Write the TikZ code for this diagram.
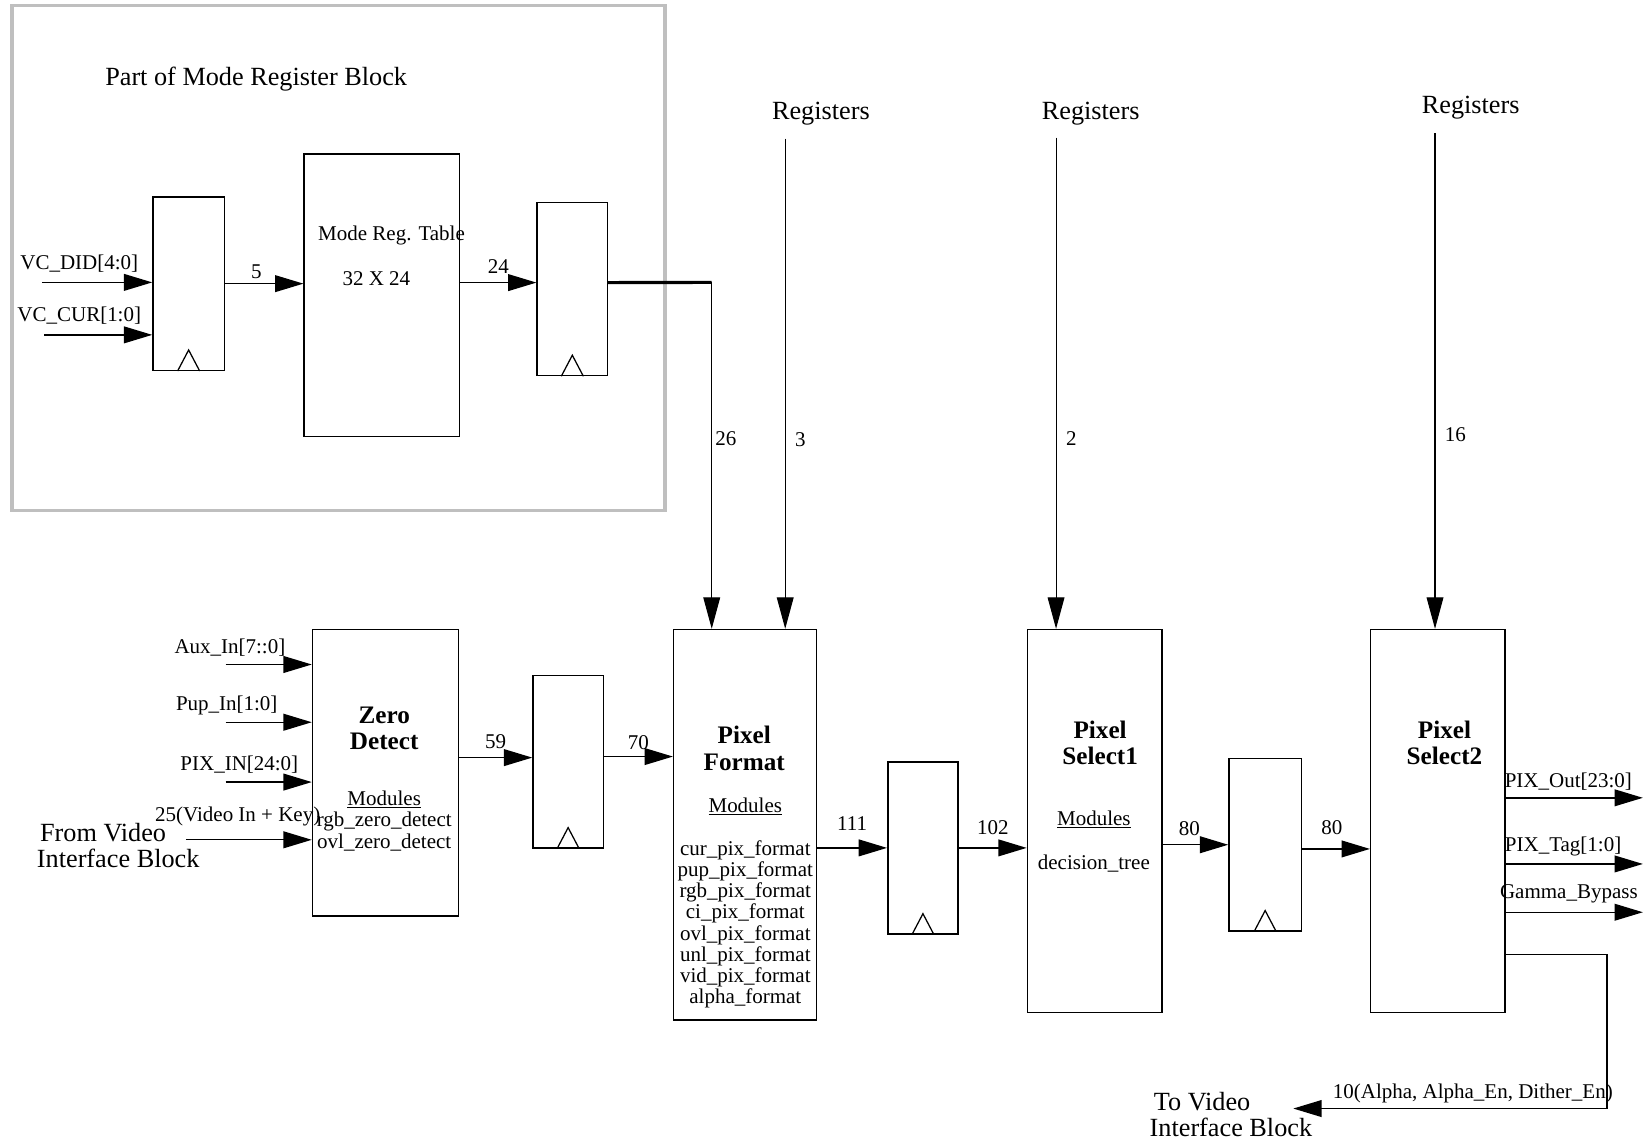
\documentclass[tikz,border=0pt]{standalone}
\usepackage{fontspec}
\setmainfont{Liberation Serif}
\usetikzlibrary{arrows.meta,calc}
\begin{document}
\begin{tikzpicture}[x=1pt,y=-1pt,
  box/.style={draw, line width=1.4pt, anchor=north west, inner sep=0pt},
  arr/.style={line width=1.3pt, -{Triangle[length=27pt,width=16pt]}},
  vthin/.style={line width=1pt, -{Triangle[length=30pt,width=16pt]}},
  num/.style={font=\fontsize{20}{20}\selectfont, inner sep=0pt},
  lbl/.style={font=\fontsize{20}{20}\selectfont, inner sep=0pt, yshift=-2pt},
  big/.style={font=\fontsize{25}{25}\selectfont, inner sep=0pt, yshift=-2pt},
  ttl/.style={font=\fontsize{24}{25}\selectfont\bfseries, align=center, inner sep=0pt},
  mods/.style={font=\fontsize{20}{20.2}\selectfont, align=center, inner sep=0pt, yshift=-2pt},
  clk/.style={line width=1.2pt}]
\useasboundingbox (0,0) rectangle (1568,1087);

% grey frame of the mode register block
\node[draw=black!25, line width=3pt, anchor=north west, minimum width=622pt, minimum height=481pt, inner sep=0pt] (mblk) at (10,4) {};
\node[big] (mbtitle) at (244,73) {Part of Mode Register Block};

% boxes
\node[box, minimum width=68pt,  minimum height=165pt] (r1)  at (145,187) {};
\node[box, minimum width=148pt, minimum height=269pt] (mrt) at (289,146) {};
\node[box, minimum width=67pt,  minimum height=165pt] (r2)  at (511,192) {};
\node[box, minimum width=139pt, minimum height=273pt] (zd)  at (297,599) {};
\node[box, minimum width=67pt,  minimum height=164pt] (r3)  at (507,643) {};
\node[box, minimum width=136pt, minimum height=372pt] (pf)  at (641,599) {};
\node[box, minimum width=67pt,  minimum height=164pt] (r4)  at (845,725) {};
\node[box, minimum width=128pt, minimum height=365pt] (ps1) at (978,599) {};
\node[box, minimum width=69pt,  minimum height=164pt] (r5)  at (1170,722) {};
\node[box, minimum width=128pt, minimum height=365pt] (ps2) at (1305,599) {};

% clock triangles
\foreach \r in {r1,r2,r3,r4,r5}
  \draw[clk] ($(\r.south)+(-10.5,0)$) -- ($(\r.south)+(0,-20)$) -- ($(\r.south)+(10.5,0)$);

% texts inside boxes
\node[lbl] (mrtA) at (373,222) {Mode Reg. Table};
\node[lbl] (mrtB) at (358.5,263) {32 X 24};
\node[ttl] (zdT) at (366,694) {Zero\\Detect};
\node[mods] (zdM) at (366,780) {\underline{Modules}\\rgb\_zero\_detect\\ovl\_zero\_detect};
\node[ttl] (pfT) at (709,713) {Pixel\\Format};
\node[lbl] (pfM) at (710,766) {\underline{Modules}};
\node[mods] (pfL) at (710,878.5) {cur\_pix\_format\\pup\_pix\_format\\rgb\_pix\_format\\ci\_pix\_format\\ovl\_pix\_format\\unl\_pix\_format\\vid\_pix\_format\\alpha\_format};
\node[ttl] (ps1T) at (1048,708) {Pixel\\Select1};
\node[lbl] (ps1M) at (1042,779) {\underline{Modules}};
\node[lbl] (ps1L) at (1042,821) {decision\_tree};
\node[ttl] (ps2T) at (1376,708) {Pixel\\Select2};

% mode block inputs
\coordinate (inDID) at (40,269);
\coordinate (inCUR) at (42,319);
\node[lbl] (tDID) at (75.5,249) {VC\_DID[4:0]};
\node[lbl] (tCUR) at (75.5,299) {VC\_CUR[1:0]};
\draw[arr] (inDID) -- (inDID -| r1.west);
\draw[arr] (inCUR) -- (inCUR -| r1.west);
\draw[arr] (r1.east) -- node[num, above=4pt, pos=0.4] (l5) {5} (r1.east -| mrt.west);
\draw[arr] ([yshift=6pt]r2.west -| mrt.east) -- node[num, above=8pt, pos=0.5] (l24) {24} ([yshift=6pt]r2.west);
\coordinate (j26) at (678,269);
\draw[line width=3pt] ([yshift=6pt]r2.east) -- (j26);
\draw[vthin] (j26) -- node[num, right=3pt, pos=0.45] (l26) {26} (j26 |- pf.north);

% registers
\node[big] (regA) at (782,106) {Registers};
\node[big] (regB) at (1039,106) {Registers};
\node[big] (regC) at (1401,101) {Registers};
\coordinate (sA) at (748,132);
\coordinate (sB) at (1006,131);
\coordinate (sC) at (1367,127);
\draw[vthin] (sA) -- node[num, right=9pt, pos=0.614] (l3) {3} (sA |- pf.north);
\draw[vthin] (sB) -- node[num, right=9pt, pos=0.612] (l2) {2} (sB |- ps1.north);
\draw[vthin] (sC) -- node[num, right=9pt, pos=0.609] (l16) {16} (sC |- ps2.north);

% zero detect inputs
\coordinate (iA) at (215,633);
\coordinate (iB) at (215,688);
\coordinate (iC) at (215,745);
\coordinate (iD) at (177,800);
\node[lbl] (tA) at (219,615) {Aux\_In[7::0]};
\node[lbl] (tB) at (216,670) {Pup\_In[1:0]};
\node[lbl] (tC) at (228,726) {PIX\_IN[24:0]};
\node[lbl] (tD) at (226.5,776) {25(Video In + Key)};
\node[big, align=left, anchor=west] (fromvid) at (35,803.5) {\hspace*{3pt}From Video\\Interface Block};
\foreach \c in {iA,iB,iC,iD}
  \draw[arr] (\c) -- (\c -| zd.west);

% data path
\draw[arr] ([yshift=4pt]r3.west -| zd.east) -- node[num, above=8pt] (l59) {59} ([yshift=4pt]r3.west);
\draw[arr] ([yshift=5pt]r3.east) -- node[num, above=6pt] (l70) {70} ([yshift=5pt]r3.east -| pf.west);
\draw[arr] (r4.west -| pf.east) -- node[num, above=16pt] (l111) {111} (r4.west);
\draw[arr] (r4.east) -- node[num, above=12pt] (l102) {102} (r4.east -| ps1.west);
\draw[arr] (r5.west -| ps1.east) -- node[num, above=8pt, pos=0.41] (l80a) {80} (r5.west);
\draw[arr] ([yshift=-4pt]r5.east) -- node[num, above=13pt, pos=0.44] (l80b) {80} ([yshift=-4pt]r5.east -| ps2.west);

% outputs
\coordinate (oA) at (1565,760);
\coordinate (oB) at (1565,823);
\coordinate (oC) at (1565,869);
\node[lbl] (tOA) at (1494,743) {PIX\_Out[23:0]};
\node[lbl] (tOB) at (1489,804) {PIX\_Tag[1:0]};
\node[lbl] (tOC) at (1494.5,849) {Gamma\_Bypass};
\draw[arr] (oA -| ps2.east) -- (oA);
\draw[arr] (oB -| ps2.east) -- (oB);
\draw[arr] (oC -| ps2.east) -- (oC);

% feedback
\coordinate (fbc) at (1531,909);
\coordinate (fbe) at (1232,1056);
\draw[arr] (fbc -| ps2.east) -- (fbc) |- (fbe);
\node[lbl] (tFB) at (1403,1040) {10(Alpha, Alpha\_En, Dither\_En)};
\node[big, align=left, anchor=west] (tovid) at (1095,1059.5) {\hspace*{4pt}To Video\\Interface Block};
\end{tikzpicture}
\end{document}
